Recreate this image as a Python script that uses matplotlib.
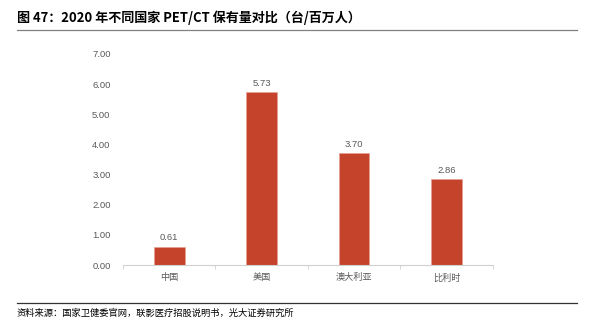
import matplotlib.pyplot as plt
from matplotlib.lines import Line2D

plt.rcParams['font.family'] = ['Noto Sans CJK SC', 'DejaVu Sans']

countries = ['中国', '美国', '澳大利亚', '比利时']
units = [0.61, 5.73, 3.70, 2.86]
yticks = [0, 1, 2, 3, 4, 5, 6, 7]

bar_color = '#C5432A'
text_gray = '#595959'

fig = plt.figure(figsize=(5.9, 3.27), dpi=100)
ax = fig.add_axes([0.2085, 0.1896, 0.627, 0.6453])

x = range(len(countries))
bars = ax.bar(x, units, width=0.33, color=bar_color, edgecolor='#E8A090', linewidth=0.4)
for b, v in zip(bars, units):
    ax.text(b.get_x() + b.get_width() / 2, v + 0.14, f'{v:.2f}',
            ha='center', va='bottom', fontsize=6.8, color=text_gray,
            family=['Liberation Sans', 'DejaVu Sans'])

ax.set_xlim(-0.5, len(countries) - 0.5)
ax.set_ylim(0, 7)
ax.set_yticks(yticks)
ax.set_yticklabels([f'{t:.2f}' for t in yticks], fontsize=6.8, color=text_gray,
                   family=['Liberation Sans', 'DejaVu Sans'])
ax.tick_params(axis='y', length=0, pad=9)

ax.set_xticks(list(x))
ax.set_xticklabels(countries, fontsize=6.6, color=text_gray)
ax.tick_params(axis='x', length=0, pad=6)
# category dividers below the baseline
ax.set_xticks([i - 0.5 for i in range(len(countries) + 1)], minor=True)
ax.tick_params(axis='x', which='minor', length=3, color='#D0D0D0', width=0.6)

for s in ['top', 'right', 'left']:
    ax.spines[s].set_visible(False)
ax.spines['bottom'].set_color('#D0D0D0')
ax.spines['bottom'].set_linewidth(0.8)

fig.text(17 / 590, 1 - 18 / 327, '图 47：2020 年不同国家 PET/CT 保有量对比（台/百万人）',
         fontsize=9.4, fontweight='bold', ha='left', va='center', color='black')
fig.add_artist(Line2D([17 / 590, 577 / 590], [1 - 30 / 327] * 2, color='#808080', linewidth=0.9))
fig.add_artist(Line2D([17 / 590, 577 / 590], [1 - 303 / 327] * 2, color='#333333', linewidth=0.9))
fig.text(17 / 590, 1 - 313 / 327, '资料来源：国家卫健委官网，联影医疗招股说明书，光大证券研究所',
         fontsize=6.7, ha='left', va='center', color='black')

fig.savefig('out.png', dpi=100)
